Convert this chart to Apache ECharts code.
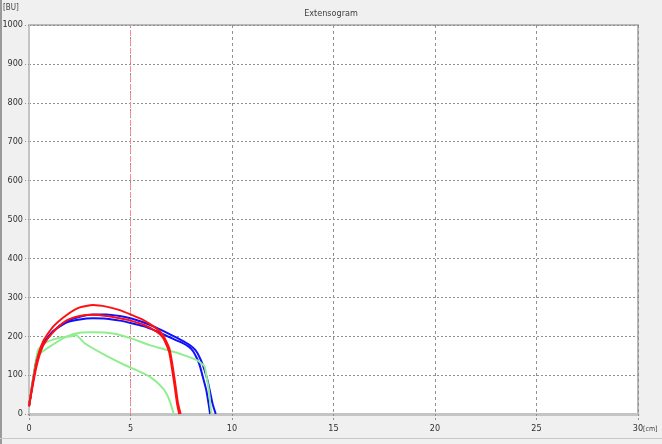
<!DOCTYPE html>
<html>
<head>
<meta charset="utf-8">
<script src="https://cdn.jsdelivr.net/npm/echarts@6/dist/echarts.min.js"></script>
<style>
html,body{margin:0;padding:0;background:#f0f0f0;}
#c{width:662px;height:444px;}
</style>
</head>
<body>
<div id="c"></div>
<script>
var titleText = 'Extensogram';
var yUnit = '[BU]';
var xUnit = '[cm]';
var xMin = 0, xMax = 30, xStep = 5;
var yMin = 0, yMax = 1000, yStep = 100;
var markerX = 5;

var red1 = [[0,20],[0.36,131],[0.69,186],[1.18,224],[1.84,254],[2.5,274],[3.15,280],[3.81,276],[4.47,267],[5.0,256],[5.62,242],[6.27,220],[6.6,203],[6.93,165],[7.18,87],[7.34,28],[7.47,0]];
var red2 = [[0,20],[0.36,120],[0.69,175],[1.18,210],[1.84,240],[2.5,252],[3.15,255],[3.81,252],[4.47,246],[5.0,240],[5.62,230],[6.27,212],[6.6,196],[6.9,160],[7.15,80],[7.3,25],[7.4,0]];
var blue1 = [[0,20],[0.36,130],[0.69,178],[1.18,212],[1.84,238],[2.5,250],[3.15,256],[3.81,256],[4.47,252],[5.0,246],[5.62,236],[6.27,222],[6.9,206],[7.5,190],[7.9,178],[8.2,164],[8.4,146],[8.57,125],[8.75,95],[8.9,62],[9.05,25],[9.2,0]];
var blue2 = [[0,20],[0.36,135],[0.69,180],[1.18,212],[1.84,235],[2.5,243],[3.15,246],[3.81,245],[4.47,240],[5.0,234],[5.62,226],[6.27,213],[6.9,198],[7.5,184],[7.9,172],[8.1,160],[8.28,142],[8.41,125],[8.58,92],[8.73,62],[8.86,22],[8.92,0]];
var green1 = [[0,20],[0.44,150],[1.02,173],[1.84,199],[2.5,209],[3.15,210],[4.14,207],[5.0,195],[5.95,177],[6.77,165],[7.59,152],[8.24,139],[8.45,132],[8.65,122],[8.76,92],[8.86,62],[8.94,20],[8.99,0]];
var green2 = [[0,20],[0.44,164],[0.77,182],[1.43,195],[2.09,200],[2.3,203],[2.74,182],[3.73,152],[4.71,126],[5.2,115],[5.95,96],[6.6,66],[6.85,44],[7.01,21],[7.13,0]];
var markerLine = [[markerX, yMin], [markerX, yMax]];

var FONT = "'Liberation Sans Narrow','DejaVu Sans Condensed',sans-serif";

function curve(name, data, color, z) {
  return {
    name: name, type: 'line', data: data, showSymbol: false, symbol: 'none',
    smooth: 0.2, lineStyle: {color: color, width: 2}, itemStyle: {color: color},
    animation: false, z: z || 3
  };
}

var chart = echarts.init(document.getElementById('c'), null, {renderer: 'canvas'});
chart.setOption({
  backgroundColor: '#f0f0f0',
  animation: false,
  title: {
    text: titleText, left: 'center', top: 4,
    textStyle: {fontFamily: FONT, fontSize: 9, fontWeight: 'normal', color: '#404040'}
  },
  grid: {
    left: 29, right: 24, top: 25, bottom: 30,
    containLabel: false, outerBoundsMode: 'none',
    show: true, backgroundColor: '#ffffff', borderColor: '#b8b8b8', borderWidth: 2
  },
  xAxis: {
    type: 'value', min: xMin, max: xMax, interval: xStep,
    axisLine: {show: true, lineStyle: {color: '#c4c4c4', width: 3}},
    axisTick: {show: true, length: 7, lineStyle: {color: '#909090', type: [2, 2], width: 1}},
    axisLabel: {fontFamily: FONT, fontSize: 9, color: '#303030', margin: 10, formatter: function (v) { return String(v); }},
    splitLine: {show: true, lineStyle: {color: '#909090', type: [3, 3], width: 1}}
  },
  yAxis: {
    type: 'value', min: yMin, max: yMax, interval: yStep,
    axisLine: {show: true, lineStyle: {color: '#c4c4c4', width: 2}},
    axisTick: {show: true, length: 6, lineStyle: {color: '#909090', type: [1, 2], width: 1}},
    axisLabel: {fontFamily: FONT, fontSize: 9, color: '#303030', margin: 6, formatter: function (v) { return String(v); }},
    splitLine: {show: true, lineStyle: {color: '#909090', type: [2, 2], width: 1}}
  },
  graphic: [
    {type: 'rect', shape: {x: 0, y: 0, width: 2, height: 444}, style: {fill: '#9a9a9a'}, silent: true},
    {type: 'rect', shape: {x: 0, y: 438, width: 662, height: 1}, style: {fill: '#c8c8c8'}, silent: true},
    {type: 'text', left: 3, top: 4, silent: true,
     style: {text: yUnit, fontFamily: FONT, fontSize: 8, fill: '#404040'}},
    {type: 'text', left: 643, top: 426, silent: true,
     style: {text: xUnit, fontFamily: FONT, fontSize: 7, fill: '#404040'}}
  ],
  series: [
    {
      name: 'marker', type: 'line', data: markerLine, showSymbol: false, symbol: 'none',
      lineStyle: {color: '#ff8c8c', type: [6, 3], width: 1}, animation: false, z: 2, silent: true
    },
    curve('green2', green2, '#90ee90'),
    curve('blue2', blue2, '#1010ff'),
    curve('blue1', blue1, '#1010ff'),
    curve('green1', green1, '#90ee90', 4),
    curve('red2', red2, '#ff1010', 5),
    curve('red1', red1, '#ff1010', 5)
  ]
});
</script>
</body>
</html>
